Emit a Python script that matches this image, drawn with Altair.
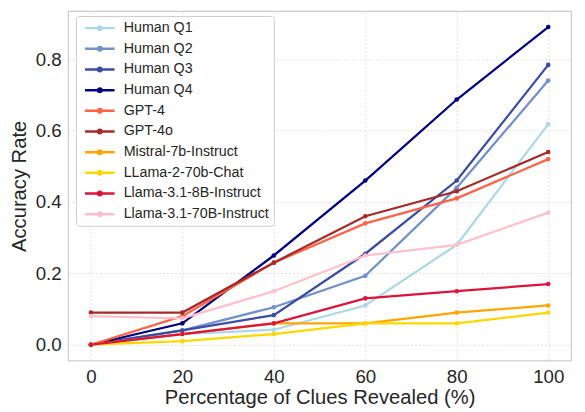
import altair as alt
import pandas as pd

pct = [0, 20, 40, 60, 80, 100]
series_names = ["Human Q1", "Human Q2", "Human Q3", "Human Q4", "GPT-4", "GPT-4o",
                "Mistral-7b-Instruct", "LLama-2-70b-Chat", "Llama-3.1-8B-Instruct",
                "Llama-3.1-70B-Instruct"]
human_q1 = [0.0, 0.03, 0.042, 0.11, 0.28, 0.618]
human_q2 = [0.0, 0.04, 0.105, 0.193, 0.44, 0.74]
human_q3 = [0.0, 0.04, 0.083, 0.255, 0.46, 0.784]
human_q4 = [0.0, 0.06, 0.25, 0.46, 0.687, 0.89]
gpt4 = [0.0, 0.08, 0.23, 0.34, 0.41, 0.52]
gpt4o = [0.09, 0.09, 0.23, 0.36, 0.43, 0.54]
mistral = [0.0, 0.03, 0.06, 0.06, 0.09, 0.11]
llama2 = [0.0, 0.01, 0.03, 0.06, 0.06, 0.09]
llama31_8b = [0.0, 0.03, 0.06, 0.13, 0.15, 0.17]
llama31_70b = [0.08, 0.074, 0.15, 0.25, 0.28, 0.37]
colors = ["#add8e6", "#7190cc", "#3a4ca6", "#000080", "#ff6347", "#a52a2a",
          "#ffa500", "#ffd700", "#dc143c", "#ffc0cb"]

all_vals = [human_q1, human_q2, human_q3, human_q4, gpt4, gpt4o, mistral, llama2,
            llama31_8b, llama31_70b]
rows = []
for i, (name, vals) in enumerate(zip(series_names, all_vals)):
    for p, v in zip(pct, vals):
        rows.append({"pct": p, "acc": v, "series": name, "ord": i})
df = pd.DataFrame(rows)

font = "Liberation Sans"
legend_symbol = "M-3,0L3,0M0.35,0A0.35,0.35 0 1 1 -0.35,0A0.35,0.35 0 1 1 0.35,0Z"

chart = alt.Chart(df).mark_line(
    strokeWidth=2.3,
    point=alt.OverlayMarkDef(size=22, filled=True),
).encode(
    x=alt.X("pct:Q", scale=alt.Scale(domain=[-5, 105], nice=False, zero=False),
            axis=alt.Axis(values=[0, 20, 40, 60, 80, 100], title="Percentage of Clues Revealed (%)",
                          format="d")),
    y=alt.Y("acc:Q", scale=alt.Scale(domain=[-0.0445, 0.9345], nice=False, zero=False),
            axis=alt.Axis(values=[0.0, 0.2, 0.4, 0.6, 0.8], format=".1f", title="Accuracy Rate")),
    color=alt.Color("series:N", sort=series_names,
                    scale=alt.Scale(domain=series_names, range=colors),
                    legend=alt.Legend(title=None, orient="none", legendX=8, legendY=5,
                                      symbolType=legend_symbol, symbolStrokeWidth=2.5,
                                      symbolSize=100, labelFontSize=14.5, labelFont=font,
                                      labelColor="#262626", rowPadding=6,
                                      padding=5, strokeColor="#cccccc", fillColor="white",
                                      cornerRadius=3, labelLimit=300, labelOffset=17,
                                      symbolOffset=12)),
    order=alt.Order("ord:Q"),
).properties(
    width=511, height=355,
    autosize=alt.AutoSizeParams(type="none"),
    padding={"left": 61, "top": 0, "right": 6, "bottom": 50},
).configure_axis(
    labelFont=font, titleFont=font, labelFontSize=19, titleFontSize=20.5,
    labelColor="#262626", titleColor="#262626", titleFontWeight="normal",
    grid=True, gridColor="#d9d9d9", gridDash=[2, 2], gridWidth=0.8,
    domain=False, ticks=False, labelPadding=7,
).configure_axisX(titlePadding=2).configure_axisY(titlePadding=6).configure_view(
    stroke="#cccccc", strokeWidth=1.2
)

chart.save("out.html", embed_options={"renderer": "svg", "actions": False})
